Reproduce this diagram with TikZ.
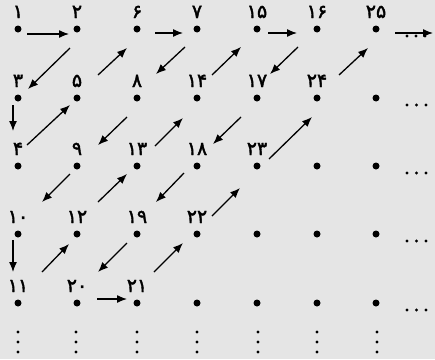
\documentclass[tikz,border=0pt]{standalone}
\usepackage{fontspec}
\newfontfamily\fanum[FakeBold=2]{DejaVu Sans}
\usetikzlibrary{calc,arrows.meta}
\begin{document}
\begin{tikzpicture}[x=1pt,y=-1pt,
  dotn/.style={circle,fill=black,inner sep=0pt,minimum size=7pt},
  sdot/.style={circle,fill=black,inner sep=0pt,minimum size=3.4pt},
  lab/.style={anchor=base,inner sep=0pt,font=\fanum\fontsize{19}{19}\selectfont},
  arr/.style={line width=1.3pt,-{Latex[length=10pt,width=8pt]}}]
\fill[black!10] (0,0) rectangle (435,359);
\useasboundingbox (0,0) rectangle (435,359);
% numbered dots
\foreach \n/\x/\y/\t in {1/18/29/۱, 2/77/29/۲, 6/137/29/۶, 7/197/29/۷, 15/257/29/۱۵, 16/317/29/۱۶, 25/376/29/۲۵,
  3/18/98/۳, 5/77/98/۵, 8/137/98/۸, 14/197/98/۱۴, 17/257/98/۱۷, 24/317/98/۲۴,
  4/18/166/۴, 9/77/166/۹, 13/137/166/۱۳, 18/197/166/۱۸, 23/257/166/۲۳,
  10/18/234/۱۰, 12/77/234/۱۲, 19/137/234/۱۹, 22/197/234/۲۲,
  11/18/303/۱۱, 20/77/303/۲۰, 21/137/303/۲۱}{
  \node[dotn] (n\n) at (\x,\y) {};
  \node[lab] (t\n) at (\x,\y-11) {\t};
}
% unnumbered dots
\foreach \x/\y in {376/98, 317/166, 376/166, 257/234, 317/234, 376/234, 197/303, 257/303, 317/303, 376/303}{
  \node[dotn] (u\x-\y) at (\x,\y) {};
}
% horizontal ellipses
\foreach \y in {105,173,241,310}{
  \foreach \x in {407,416.5,426}{ \node[sdot] (h\x-\y) at (\x,\y) {}; }
}
% vertical ellipses
\foreach \x in {18,76,137,197,258,317,377}{
  \foreach \y in {332,342,352}{ \node[sdot] (v\x-\y) at (\x,\y) {}; }
}
% arrows
\draw[arr] ($(n1)+(9,5)$) -- ($(n2)+(-8,5)$);
\draw[arr] ($(n2)+(-7,19)$) -- ($(n3)+(10,-9)$);
\draw[arr] ($(n3)+(-5,7)$) -- ($(n4)+(-5,-35)$);
\draw[arr] ($(n4)+(9,-21)$) -- ($(n5)+(-7,7)$);
\draw[arr] ($(n5)+(21,-23)$) -- ($(n6)+(-10,19)$);
\draw[arr] ($(n6)+(18,4)$) -- ($(n7)+(-14,4)$);
\draw[arr] ($(n7)+(-12,18)$) -- ($(n8)+(19,-24)$);
\draw[arr] ($(n8)+(-10,19)$) -- ($(n9)+(21,-21)$);
\draw[arr] ($(n9)+(-7,8)$) -- ($(n10)+(24,-32)$);
\draw[arr] ($(n10)+(-5,6)$) -- ($(n11)+(-5,-31)$);
\draw[arr] ($(n11)+(24,-31)$) -- ($(n12)+(-8,10)$);
\draw[arr] ($(n12)+(21,-32)$) -- ($(n13)+(-10,8)$);
\draw[arr] ($(n13)+(18,-20)$) -- ($(n14)+(-14,20)$);
\draw[arr] ($(n14)+(15,-23)$) -- ($(n15)+(-16,18)$);
\draw[arr] ($(n15)+(11,4)$) -- ($(n16)+(-20,4)$);
\draw[arr] ($(n16)+(-19,18)$) -- ($(n17)+(13,-24)$);
\draw[arr] ($(n17)+(-16,19)$) -- ($(n18)+(16,-22)$);
\draw[arr] ($(n18)+(-13,7)$) -- ($(n19)+(19,-32)$);
\draw[arr] ($(n19)+(-10,9)$) -- ($(n20)+(21,-31)$);
\draw[arr] ($(n20)+(20,-4)$) -- ($(n21)+(-10,-4)$);
\draw[arr] ($(n21)+(17,-31)$) -- ($(n22)+(-14,9)$);
\draw[arr] ($(n22)+(15,-18)$) -- ($(n23)+(-17,22)$);
\draw[arr] ($(n23)+(12,-7)$) -- ($(n24)+(-5,19)$);
\draw[arr] ($(n24)+(22,-23)$) -- ($(n25)+(-8,19)$);
\coordinate (tail) at (433,33);
\draw[arr] ($(n25)+(19,4)$) -- (tail);
\foreach \x in {407,416,425}{ \node[sdot] (a\x) at (\x,36) {}; }
\end{tikzpicture}
\end{document}
